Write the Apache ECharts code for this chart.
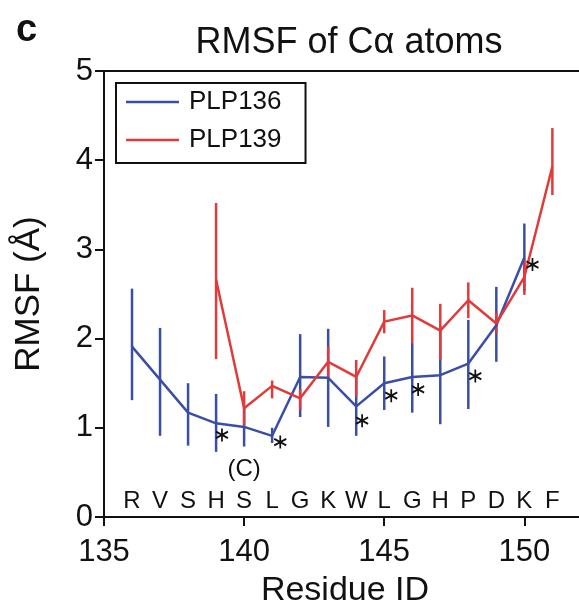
<!DOCTYPE html>
<html><head><meta charset="utf-8">
<script src="https://cdn.jsdelivr.net/npm/echarts@6/dist/echarts.min.js"></script>
<style>html,body{margin:0;padding:0;background:#fff;overflow:hidden}#c{width:600px;height:608px}</style>
</head><body><div id="c"></div>
<script>
// Data
const residues136 = [136,137,138,139,140,141,142,143,144,145,146,147,148,149,150];
const rmsf136     = [1.91,1.54,1.17,1.05,1.01,0.91,1.57,1.56,1.24,1.50,1.57,1.59,1.72,2.15,2.91];
const low136      = [1.31,0.91,0.80,0.73,0.79,0.83,1.12,1.01,0.91,1.20,1.17,1.04,1.21,1.74,2.53];
const high136     = [2.56,2.12,1.50,1.38,1.23,1.00,2.05,2.11,1.57,1.80,1.95,2.14,2.21,2.58,3.29];
const residues139 = [139,140,141,142,143,144,145,146,147,148,149,150,151];
const rmsf139     = [2.66,1.22,1.47,1.33,1.74,1.57,2.19,2.26,2.09,2.43,2.17,2.69,3.93];
const low139      = [1.77,1.02,1.33,1.20,1.57,1.35,2.06,1.95,1.76,2.23,2.06,2.49,3.61];
const high139     = [3.52,1.41,1.53,1.43,1.91,1.76,2.32,2.57,2.39,2.63,2.29,2.88,4.36];
const starX = [139.21,141.29,144.21,145.25,146.21,148.25,150.29];
const starY = [0.92,0.84,1.08,1.36,1.43,1.58,2.83];
const letterX = [136,137,138,139,140,141,142,143,144,145,146,147,148,149,150,151];
const letters = ['R','V','S','H','S','L','G','K','W','L','G','H','P','D','K','F'];
const xTicks = [135,140,145,150];
const yTicks = [0,1,2,3,4,5];

const BLUE = '#3a4ea6', RED = '#e23a3a';
const FONT = 'Liberation Sans, Arial, sans-serif';

function errSeries(xs, lo, hi, color) {
  return {
    type: 'custom', z: 3,
    data: xs.map((x, i) => [x, lo[i], hi[i]]),
    renderItem: function (params, api) {
      const a = api.coord([api.value(0), api.value(1)]);
      const b = api.coord([api.value(0), api.value(2)]);
      return { type: 'line', shape: { x1: a[0], y1: a[1], x2: b[0], y2: b[1] },
               style: { stroke: color, lineWidth: 2.5 } };
    }
  };
}

const chart = echarts.init(document.getElementById('c'), null, { renderer: 'canvas' });
chart.setOption({
  animation: false,
  textStyle: { fontFamily: FONT },
  title: [
    { text: 'RMSF of C\u03b1 atoms', left: 344, top: 20, textAlign: 'center',
      textStyle: { fontSize: 36, fontWeight: 'normal', color: '#111', fontFamily: FONT } },
    { text: 'c', left: 11, top: 7,
      textStyle: { fontSize: 38, fontWeight: 'bold', color: '#111', fontFamily: FONT } }
  ],
  legend: {
    left: 116, top: 83, orient: 'vertical',
    padding: [6, 24, 10, 10], itemGap: 12,
    borderColor: '#111', borderWidth: 2,
    icon: 'rect', itemWidth: 53, itemHeight: 2.5,
    data: ['PLP136', 'PLP139'],
    textStyle: { fontSize: 26, color: '#111', fontFamily: FONT, padding: [0, 0, 0, 5] }
  },
  grid: { left: 104, right: 14, top: 71, bottom: 91, outerBoundsMode: 'none',
          show: true, borderColor: '#111', borderWidth: 2 },
  xAxis: {
    type: 'value', min: 135, max: 152.2, interval: 5,
    name: 'Residue ID', nameLocation: 'middle', nameGap: 57,
    nameTextStyle: { fontSize: 34, color: '#111', fontFamily: FONT },
    axisLine: { show: true, lineStyle: { color: '#111', width: 2 } },
    axisTick: { show: true, length: 9, lineStyle: { color: '#111', width: 2 } },
    axisLabel: { fontSize: 31, color: '#111', margin: 20, fontFamily: FONT,
      formatter: v => xTicks.includes(v) ? String(v) : '' },
    splitLine: { show: false }
  },
  yAxis: {
    type: 'value', min: 0, max: 5, interval: 1,
    name: 'RMSF (\u00c5)', nameLocation: 'middle', nameGap: 57,
    nameTextStyle: { fontSize: 35, color: '#111', fontFamily: FONT },
    axisLine: { show: true, lineStyle: { color: '#111', width: 2 } },
    axisTick: { show: true, length: 9, lineStyle: { color: '#111', width: 2 } },
    axisLabel: { fontSize: 31, color: '#111', margin: 11, fontFamily: FONT,
      formatter: v => yTicks.includes(v) ? String(v) : '' },
    splitLine: { show: false }
  },
  series: [
    errSeries(residues136, low136, high136, BLUE),
    { name: 'PLP136', type: 'line', z: 4, showSymbol: false, symbol: 'none',
      data: residues136.map((x, i) => [x, rmsf136[i]]),
      lineStyle: { color: BLUE, width: 2.5 }, itemStyle: { color: BLUE } },
    errSeries(residues139, low139, high139, RED),
    { name: 'PLP139', type: 'line', z: 5, showSymbol: false, symbol: 'none',
      data: residues139.map((x, i) => [x, rmsf139[i]]),
      lineStyle: { color: RED, width: 2.5 }, itemStyle: { color: RED } },
    { type: 'scatter', z: 6, silent: true,
      data: starX.map((x, i) => [x, starY[i]]),
      symbol: 'path://M0,-1L0,1M-0.866,-0.5L0.866,0.5M-0.866,0.5L0.866,-0.5',
      symbolSize: [12, 13],
      itemStyle: { color: 'none', borderColor: '#111', borderWidth: 1.8, opacity: 1 } },
    { type: 'scatter', z: 6, silent: true, symbolSize: 0, itemStyle: { opacity: 1 },
      data: letterX.map((x, i) => ({ value: [x, 0.17], label: { formatter: letters[i] } })),
      label: { show: true, position: 'inside', fontSize: 24, color: '#111', fontFamily: FONT } },
    { type: 'scatter', z: 6, silent: true, symbolSize: 0, itemStyle: { opacity: 1 },
      data: [{ value: [140, 0.53], label: { formatter: '(C)' } }],
      label: { show: true, position: 'inside', fontSize: 24, color: '#111', fontFamily: FONT } }
  ]
});
</script></body></html>
